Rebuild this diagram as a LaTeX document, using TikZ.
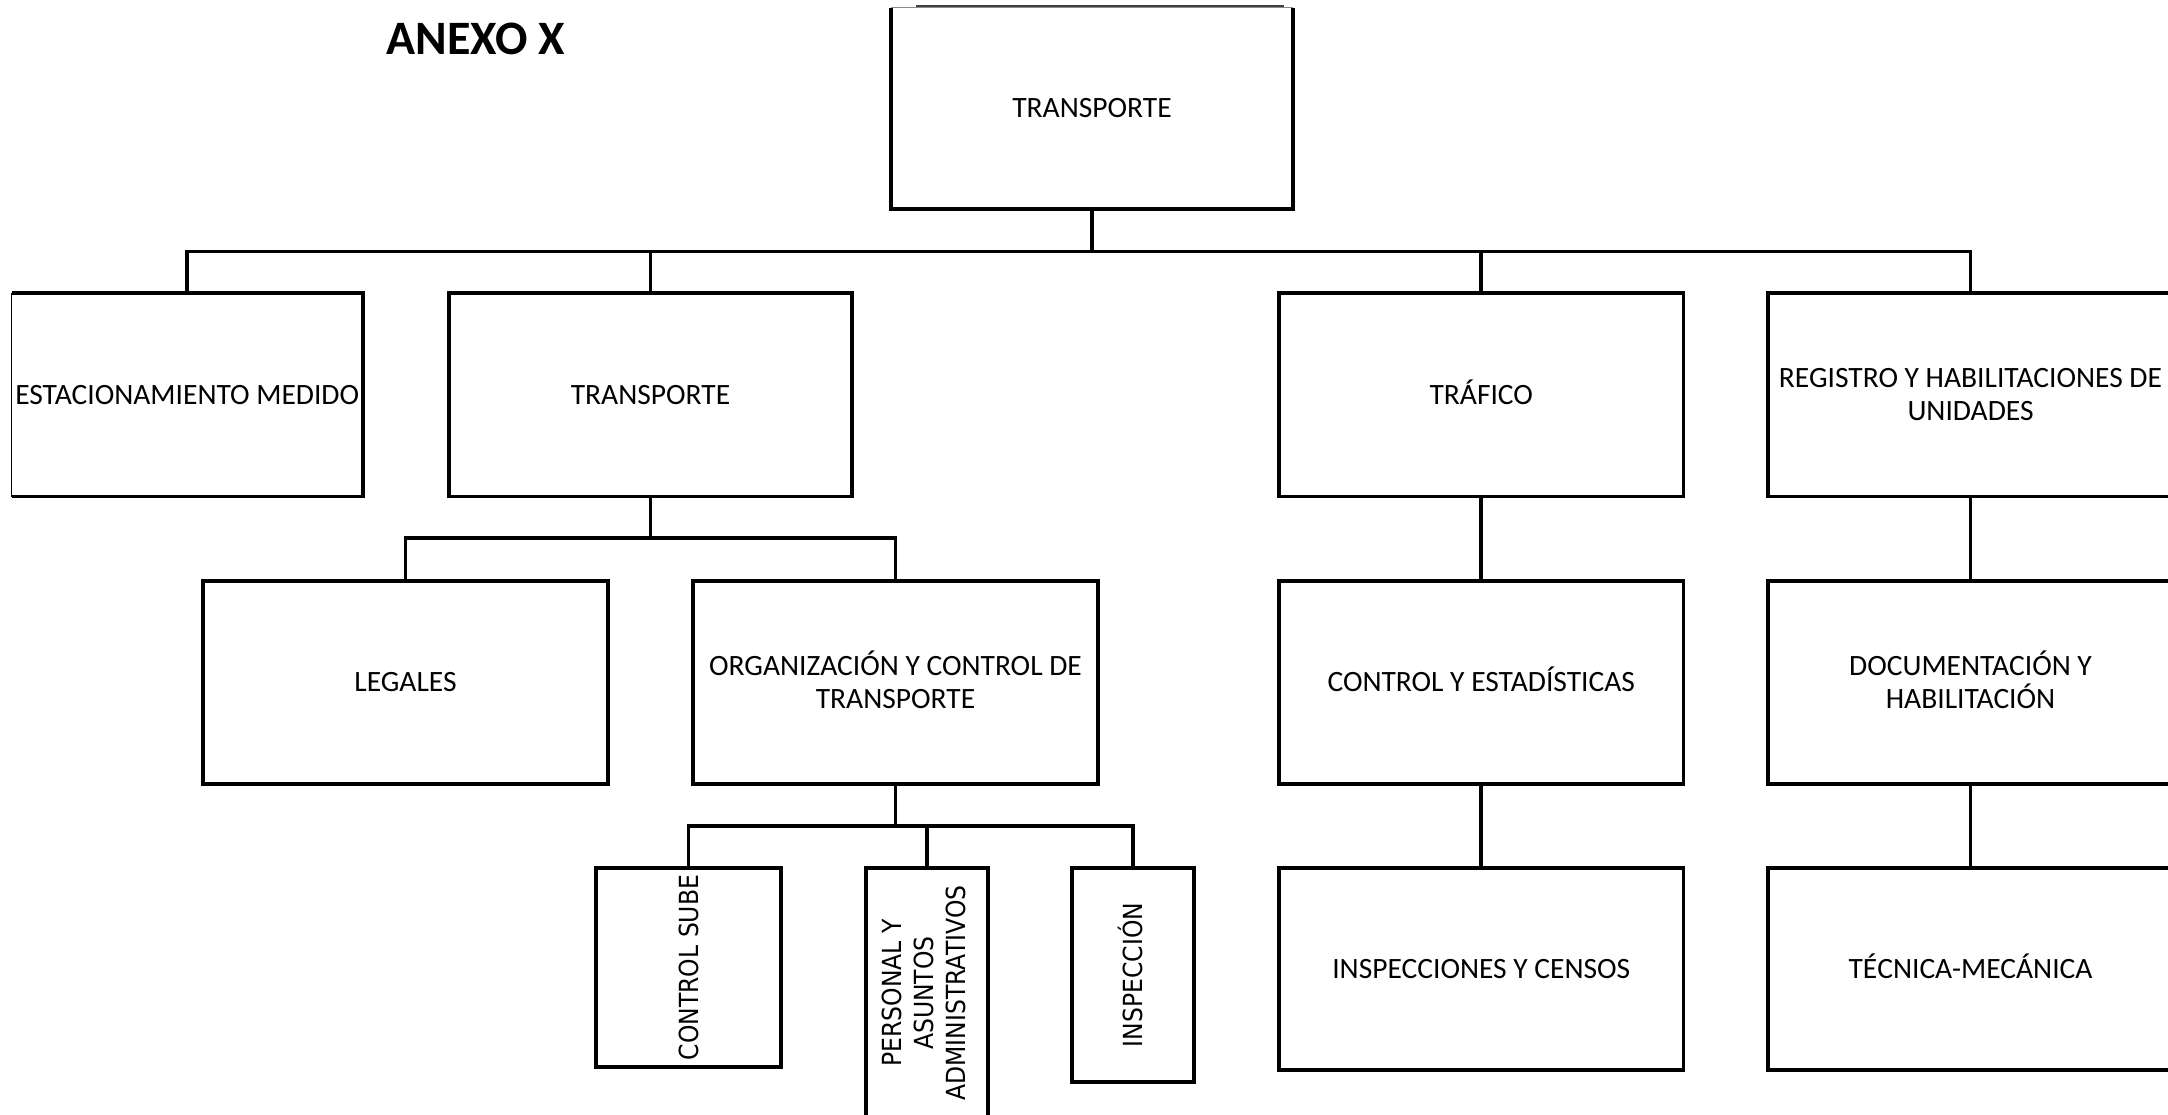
\documentclass[tikz,border=0pt]{standalone}
\usepackage{graphicx}
\usepackage{fontspec}
\setmainfont{Carlito}
\newfontfamily\vfont{DejaVu Sans}
\begin{document}
\begin{tikzpicture}[x=1pt,y=-1pt,
  box/.style={draw=black, line width=3.2pt, inner sep=0pt, outer sep=0pt, align=center,
    font=\fontsize{29.5}{33}\selectfont, text=black, line join=miter},
  conn/.style={draw=black, line width=3.6pt, line join=miter},
  vtext/.style={rotate=90, inner sep=0pt, align=center, font=\vfont\fontsize{23.5}{28.5}\selectfont},
  title/.style={inner sep=0pt, font=\bfseries\fontsize{48}{52}\selectfont}
]
\useasboundingbox (0,0) rectangle (2168,1114);
\fill[white] (0,0) rectangle (2168,1114);

\node[title] (anexo) at (476,39) {ANEXO X};

% level 0
\node[box, draw=none, minimum width=402pt, minimum height=201.5pt] (top) at (1092,108.25) {TRANSPORTE};
\draw[line width=3.2pt] (top.north west) -- (top.south west) -- (top.south east) -- (top.north east);
\draw[line width=1pt, black!45] (top.north west) -- (top.north east);
\draw[line width=2pt, black!75] ([xshift=25pt,yshift=2pt]top.north west) -- ([xshift=-9pt,yshift=2pt]top.north east);

% level 1
\node[box, draw=none, minimum width=351.5pt, minimum height=203.5pt] (estac) at (187.25,394.75) {ESTACIONAMIENTO MEDIDO};
\draw[line width=3.2pt] (estac.north west) -- (estac.north east) -- (estac.south east) -- (estac.south west);
\draw[line width=1.3pt] (estac.south west) -- (estac.north west);
\node[box, minimum width=403pt, minimum height=203.5pt] (trans) at (650.5,394.75) {TRANSPORTE};
\node[box, minimum width=404.5pt, minimum height=203.5pt] (trafico) at (1481.25,394.75) {TR\smash{Á}FICO};
\node[box, minimum width=405pt, minimum height=203.5pt] (registro) at (1970.5,394.75) {REGISTRO Y HABILITACIONES DE\\UNIDADES};

% level 2
\node[box, minimum width=405pt, minimum height=203pt] (legales) at (405.5,682.5) {LEGALES};
\node[box, minimum width=405pt, minimum height=203pt] (org) at (895.5,682.5) {ORGANIZACI\smash{Ó}N Y CONTROL DE\\TRANSPORTE};
\node[box, minimum width=404.5pt, minimum height=203pt] (ctrl) at (1481.25,682.5) {CONTROL Y ESTAD\smash{Í}STICAS};
\node[box, minimum width=405pt, minimum height=203pt] (doc) at (1970.5,682.5) {DOCUMENTACI\smash{Ó}N Y\\HABILITACI\smash{Ó}N};

% level 3
\node[box, minimum width=185pt, minimum height=199pt] (sube) at (688.5,967.5) {};
\node[vtext] (subeT) at (sube.center) {\scalebox{1}[1.12]{CONTROL SUBE}};
\node[box, minimum width=122pt, minimum height=250pt] (pers) at (927,993) {};
\node[vtext] (persT) at (pers.center) {\scalebox{1}[1.12]{\begin{tabular}{@{}c@{}}PERSONAL Y\\ASUNTOS\\ADMINISTRATIVOS\end{tabular}}};
\node[box, minimum width=122pt, minimum height=214pt] (inspec) at (1133,975) {};
\node[vtext] (inspecT) at (inspec.center) {\scalebox{1}[1.12]{INSPECCI\smash{Ó}N}};
\node[box, minimum width=404.5pt, minimum height=202pt] (censos) at (1481.25,969) {INSPECCIONES Y CENSOS};
\node[box, minimum width=405pt, minimum height=202pt] (tecnica) at (1970.5,969) {T\smash{É}CNICA-MEC\smash{Á}NICA};

% buses
\coordinate (busA) at (0,251.5);
\coordinate (busB) at (0,538);
\coordinate (busC) at (0,826);

\draw[conn] (estac.north) -- (estac.north |- busA) -- (registro.north |- busA) -- (registro.north);
\draw[conn] (top.south) -- (top.south |- busA);
\draw[conn] (trans.north) -- (trans.north |- busA);
\draw[conn] (trafico.north) -- (trafico.north |- busA);

\draw[conn] (legales.north) -- (legales.north |- busB) -- (org.north |- busB) -- (org.north);
\draw[conn] (trans.south) -- (trans.south |- busB);

\draw[conn] (sube.north) -- (sube.north |- busC) -- (inspec.north |- busC) -- (inspec.north);
\draw[conn] (org.south) -- (org.south |- busC);
\draw[conn] (pers.north) -- (pers.north |- busC);

\draw[conn] (trafico.south) -- (ctrl.north);
\draw[conn] (ctrl.south) -- (censos.north);
\draw[conn] (registro.south) -- (doc.north);
\draw[conn] (doc.south) -- (tecnica.north);
\end{tikzpicture}
\end{document}
